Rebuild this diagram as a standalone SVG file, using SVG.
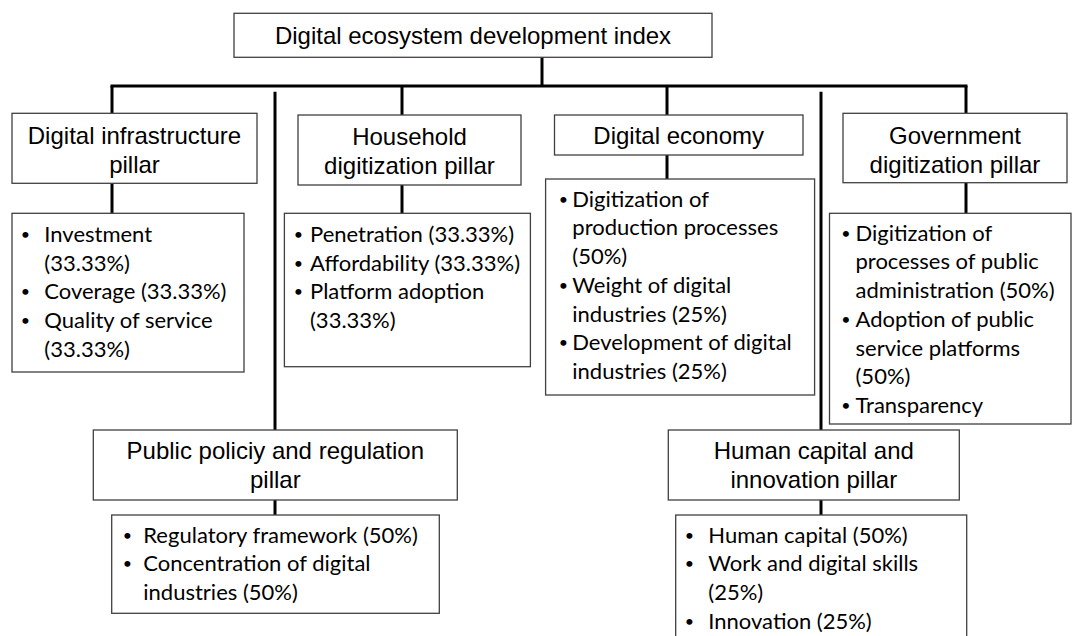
<svg xmlns="http://www.w3.org/2000/svg" width="1073" height="636" viewBox="0 0 1073 636">
  <style>
    .box { fill: #ffffff; stroke: #404040; stroke-width: 1.3; }
    .title { font-family: "Liberation Sans", Arial, sans-serif; font-size: 24px; fill: #000000; text-anchor: middle; }
    .item { font-family: Lato, "Open Sans", sans-serif; font-size: 22px; fill: #000000; }
    .dot { font-family: Lato, "Open Sans", sans-serif; font-size: 16px; fill: #000000; text-anchor: middle; }
    .link { fill: none; stroke: #000000; stroke-width: 3; }
  </style>
  <rect width="1073" height="636" fill="#ffffff"/>

  <!-- connectors -->
  <g id="connectors">
    <path class="link" d="M542 57.3 V86"/>
    <path class="link" d="M110.5 86 H967.5"/>
    <path class="link" d="M112 86 V113.3"/>
    <path class="link" d="M402 86 V115"/>
    <path class="link" d="M667 86 V115"/>
    <path class="link" d="M966 86 V113.3"/>
    <path class="link" d="M275 91.7 V430"/>
    <path class="link" d="M821 91.7 V430"/>
    <path class="link" d="M112 183.3 V213.3"/>
    <path class="link" d="M402 185 V213.3"/>
    <path class="link" d="M667 155 V179"/>
    <path class="link" d="M966 182.7 V213.3"/>
    <path class="link" d="M275 500 V515"/>
    <path class="link" d="M821 500 V515"/>
  </g>

  <!-- root -->
  <g id="root">
    <rect class="box" x="234" y="13.3" width="478" height="44"/>
    <text class="title" x="473" y="44">Digital ecosystem development index</text>
  </g>

  <!-- pillar headings -->
  <g id="infrastructure">
    <rect class="box" x="12" y="113.3" width="245" height="70"/>
    <text class="title" x="134.5" y="144">Digital infrastructure</text>
    <text class="title" x="134.5" y="173">pillar</text>
  </g>
  <g id="household">
    <rect class="box" x="298" y="115" width="223" height="70"/>
    <text class="title" x="409.5" y="144.5">Household</text>
    <text class="title" x="409.5" y="174">digitization pillar</text>
  </g>
  <g id="economy">
    <rect class="box" x="554.5" y="115" width="248.5" height="40"/>
    <text class="title" x="678.7" y="143.6">Digital economy</text>
  </g>
  <g id="government">
    <rect class="box" x="843" y="113.3" width="224" height="69.4"/>
    <text class="title" x="955" y="144">Government</text>
    <text class="title" x="955" y="173">digitization pillar</text>
  </g>
  <g id="policy">
    <rect class="box" x="93.3" y="430" width="364" height="70"/>
    <text class="title" x="275.3" y="459.3">Public policiy and regulation</text>
    <text class="title" x="275.3" y="487.5">pillar</text>
  </g>
  <g id="human-capital">
    <rect class="box" x="668.3" y="430" width="291" height="70"/>
    <text class="title" x="813.8" y="459.3">Human capital and</text>
    <text class="title" x="813.8" y="487.5">innovation pillar</text>
  </g>

  <!-- indicator lists -->
  <g id="infrastructure-items">
    <rect class="box" x="12" y="213.3" width="232" height="158.7"/>
    <text class="dot" x="25.3" y="240">•</text>
    <text class="item" x="44.3" y="242">Investment</text>
    <text class="item" x="44.3" y="270.7">(33.33%)</text>
    <text class="dot" x="25.3" y="297.4">•</text>
    <text class="item" x="44.3" y="299.4">Coverage (33.33%)</text>
    <text class="dot" x="25.3" y="326">•</text>
    <text class="item" x="44.3" y="328">Quality of service</text>
    <text class="item" x="44.3" y="356.7">(33.33%)</text>
  </g>
  <g id="household-items">
    <rect class="box" x="284.4" y="213.3" width="246" height="153.4"/>
    <text class="dot" x="298.5" y="240">•</text>
    <text class="item" x="310" y="242">Penetration (33.33%)</text>
    <text class="dot" x="298.5" y="268.7">•</text>
    <text class="item" x="310" y="270.7">Affordability (33.33%)</text>
    <text class="dot" x="298.5" y="297.4">•</text>
    <text class="item" x="310" y="299.4">Platform adoption</text>
    <text class="item" x="310" y="328">(33.33%)</text>
  </g>
  <g id="economy-items">
    <rect class="box" x="545.6" y="179" width="269" height="216"/>
    <text class="dot" x="563.5" y="204.7">•</text>
    <text class="item" x="572.3" y="206.7">Digitization of</text>
    <text class="item" x="572.3" y="235.4">production processes</text>
    <text class="item" x="572.3" y="264.1">(50%)</text>
    <text class="dot" x="563.5" y="290.8">•</text>
    <text class="item" x="572.3" y="292.8">Weight of digital</text>
    <text class="item" x="572.3" y="321.5">industries (25%)</text>
    <text class="dot" x="563.5" y="348.2">•</text>
    <text class="item" x="572.3" y="350.2">Development of digital</text>
    <text class="item" x="572.3" y="378.9">industries (25%)</text>
  </g>
  <g id="government-items">
    <rect class="box" x="829.5" y="213.3" width="241.5" height="210.7"/>
    <text class="dot" x="846" y="238.7">•</text>
    <text class="item" x="855.5" y="240.7">Digitization of</text>
    <text class="item" x="855.5" y="269.4">processes of public</text>
    <text class="item" x="855.5" y="298.1">administration (50%)</text>
    <text class="dot" x="846" y="324.8">•</text>
    <text class="item" x="855.5" y="326.8">Adoption of public</text>
    <text class="item" x="855.5" y="355.5">service platforms</text>
    <text class="item" x="855.5" y="384.2">(50%)</text>
    <text class="dot" x="846" y="410.9">•</text>
    <text class="item" x="855.5" y="412.9">Transparency</text>
  </g>
  <g id="policy-items">
    <rect class="box" x="111.7" y="515" width="327.6" height="98.3"/>
    <text class="dot" x="127.5" y="540.7">•</text>
    <text class="item" x="143.3" y="542.7">Regulatory framework (50%)</text>
    <text class="dot" x="127.5" y="569.4">•</text>
    <text class="item" x="143.3" y="571.4">Concentration of digital</text>
    <text class="item" x="143.3" y="600.1">industries (50%)</text>
  </g>
  <g id="human-capital-items">
    <rect class="box" x="675.7" y="515" width="291" height="140"/>
    <text class="dot" x="689.3" y="540.7">•</text>
    <text class="item" x="708.3" y="542.7">Human capital (50%)</text>
    <text class="dot" x="689.3" y="569.4">•</text>
    <text class="item" x="708.3" y="571.4">Work and digital skills</text>
    <text class="item" x="708.3" y="600.1">(25%)</text>
    <text class="dot" x="689.3" y="626.8">•</text>
    <text class="item" x="708.3" y="628.8">Innovation (25%)</text>
  </g>
</svg>
